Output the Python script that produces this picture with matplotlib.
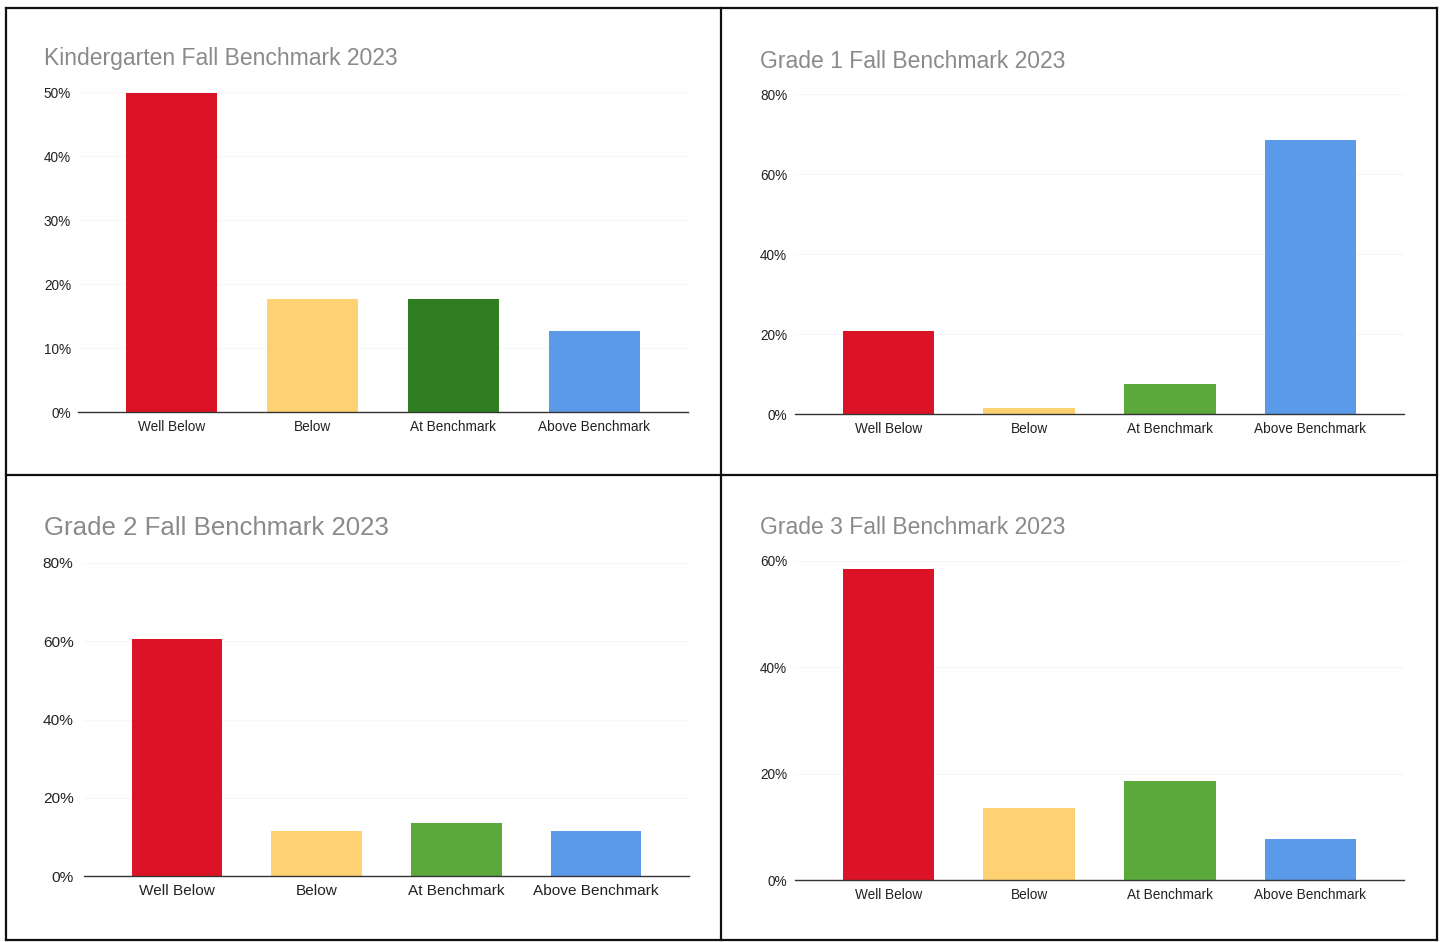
import matplotlib
matplotlib.use("Agg")
import matplotlib.pyplot as plt
from matplotlib.lines import Line2D
from matplotlib.ticker import FuncFormatter

plt.rcParams['font.family'] = ['Liberation Sans', 'DejaVu Sans']

categories = ["Well Below", "Below", "At Benchmark", "Above Benchmark"]
titles = ["Kindergarten Fall Benchmark 2023", "Grade 1 Fall Benchmark 2023",
          "Grade 2 Fall Benchmark 2023", "Grade 3 Fall Benchmark 2023"]
kinder_vals = [49.8, 17.7, 17.7, 12.7]
grade1_vals = [20.7, 1.5, 7.5, 68.5]
grade2_vals = [60.6, 11.5, 13.5, 11.5]
grade3_vals = [58.5, 13.5, 18.6, 7.7]
y_max = [50, 80, 80, 60]
y_step = [10, 20, 20, 20]

red, yellow, blue = "#dc1326", "#fed273", "#5b9ae9"
green_dark, green = "#2f7f22", "#5ba83b"
colors = [[red, yellow, green_dark, blue],
          [red, yellow, green, blue],
          [red, yellow, green, blue],
          [red, yellow, green, blue]]
values = [kinder_vals, grade1_vals, grade2_vals, grade3_vals]

W, H = 1443, 942
fig = plt.figure(figsize=(W / 100, H / 100), dpi=100)

# axes pixel boxes: (left, right, top(max), bottom(0))
boxes = [(78, 688, 92, 412), (795, 1404, 94, 414),
         (84, 689, 563, 876), (795, 1404, 561, 880)]
title_pos = [(44, 59), (760, 61), (44, 528), (760, 528)]
title_size = [16.5, 16.5, 18.6, 16.5]
tick_size = [9.8, 9.8, 11.1, 9.8]
ypad = [5, 5.5, 7.5, 5.5]

for i in range(4):
    l, r, t, b = boxes[i]
    ax = fig.add_axes([l / W, 1 - b / H, (r - l) / W, (b - t) / H])
    x = range(len(categories))
    ax.bar(x, values[i], width=0.65, color=colors[i], zorder=2)
    ax.set_xlim(-0.665, 3.665)
    ax.set_ylim(0, y_max[i])
    ticks = list(range(0, y_max[i] + 1, y_step[i]))
    ax.set_yticks(ticks)
    ax.yaxis.set_major_formatter(FuncFormatter(lambda v, p: f"{int(v)}%"))
    ax.set_xticks(list(x))
    ax.set_xticklabels(categories)
    for s in ["top", "right", "left"]:
        ax.spines[s].set_visible(False)
    ax.spines["bottom"].set_color("#333333")
    ax.spines["bottom"].set_linewidth(1.0)
    ax.spines["bottom"].set_zorder(3)
    ax.tick_params(axis="both", length=0, labelsize=tick_size[i], colors="#222222")
    ax.tick_params(axis="y", pad=ypad[i])
    ax.tick_params(axis="x", pad=6)
    ax.grid(axis="y", color="#f7f7f7", linewidth=0.8, zorder=0)
    ax.set_facecolor("none")
    tx, ty = title_pos[i]
    fig.text(tx / W, 1 - ty / H, titles[i], fontsize=title_size[i], color="#8a8a8a",
             va="center", ha="left")

# panel borders
def hline(y, x0, x1):
    fig.add_artist(Line2D([x0 / W, x1 / W], [1 - y / H, 1 - y / H], color="#111111", lw=1.6))

def vline(x, y0, y1):
    fig.add_artist(Line2D([x / W, x / W], [1 - y0 / H, 1 - y1 / H], color="#111111", lw=1.6))

hline(8, 6, 1437)
hline(475, 6, 1437)
hline(940, 6, 1437)
vline(6, 8, 940)
vline(721, 8, 940)
vline(1437, 8, 940)

fig.savefig("out.png", dpi=100, facecolor="white")
